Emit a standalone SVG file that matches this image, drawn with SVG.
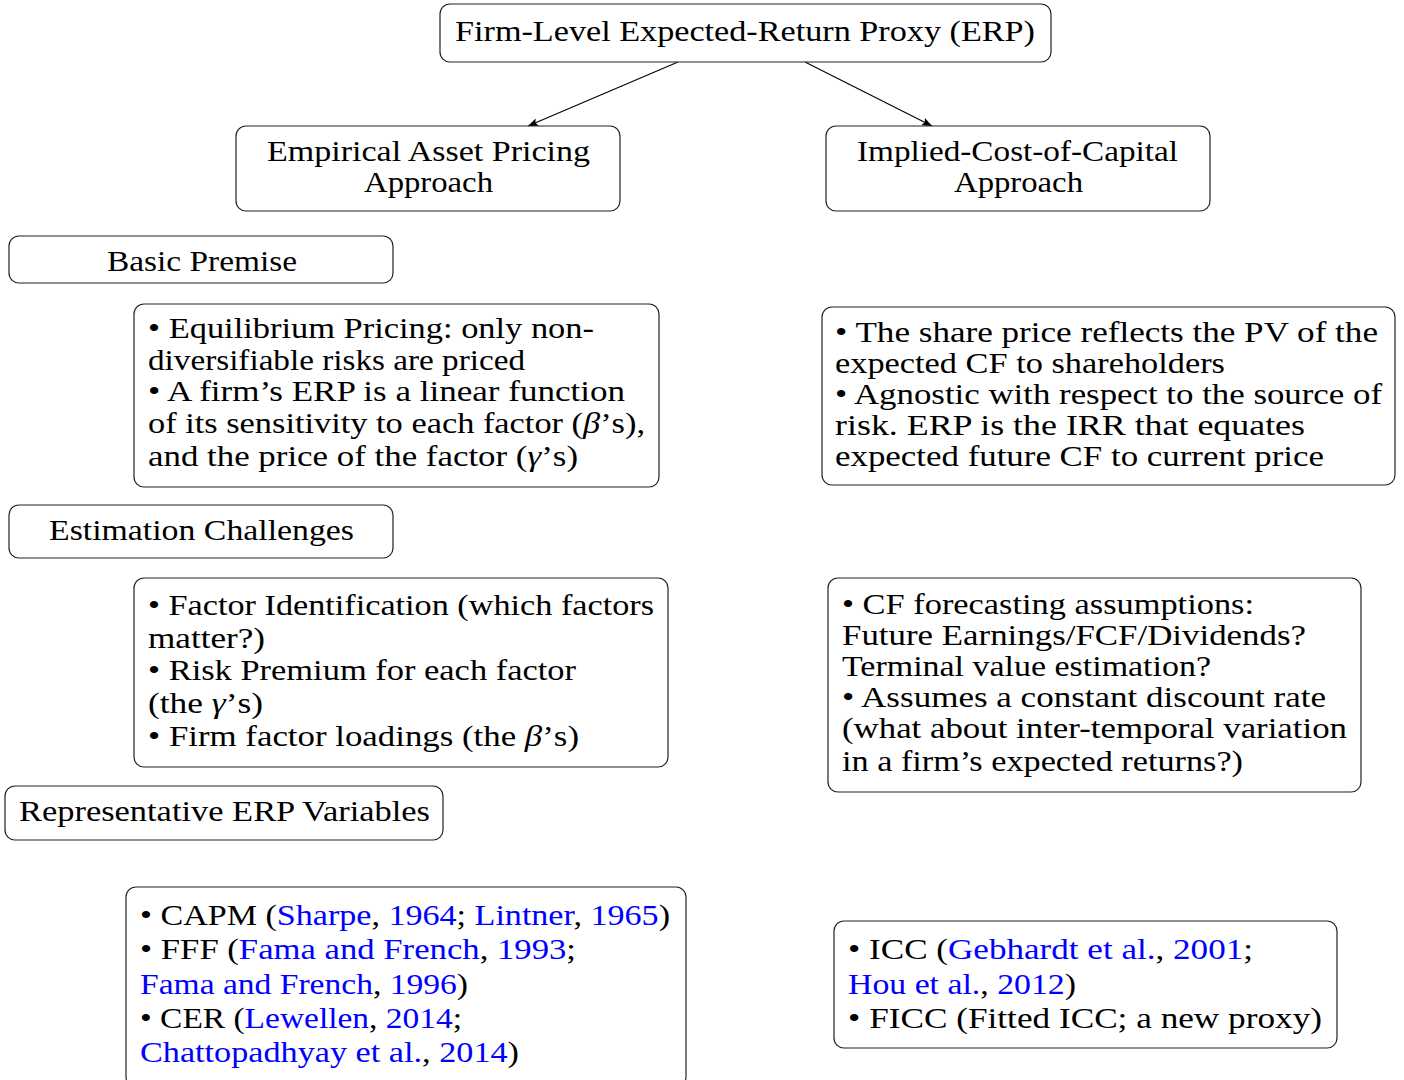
<svg xmlns="http://www.w3.org/2000/svg" width="1404" height="1080" viewBox="0 0 1404 1080">
<defs>
<marker id="arr" viewBox="0 0 10 8" refX="10" refY="4" markerWidth="10" markerHeight="8" markerUnits="userSpaceOnUse" orient="auto">
<path d="M0,0 L10,4 L0,8 L2,4 Z" fill="#000"/>
</marker>
<style>
.box{fill:#fff;stroke:#222;stroke-width:1.2}
text{font-family:"Liberation Serif","Times New Roman",serif;font-size:30px;fill:#000}
.c{text-anchor:middle}
.l{fill:#0000ff}
.m{font-style:italic}
.edge{stroke:#000;stroke-width:1.1;fill:none}
</style>
</defs>
<rect width="1404" height="1080" fill="#fff"/>
<g id="connectors">
<path class="edge" d="M678,62 L528,126" marker-end="url(#arr)"/>
<path class="edge" d="M805,62 L932,126" marker-end="url(#arr)"/>
</g>
<g id="erp">
<rect class="box" x="440" y="4" width="611" height="58" rx="10"/>
<text x="455" y="41" textLength="580" lengthAdjust="spacingAndGlyphs">Firm-Level Expected-Return Proxy (ERP)</text>
</g>
<g id="empirical">
<rect class="box" x="236" y="126" width="384" height="85" rx="10"/>
<text x="267" y="161" textLength="323" lengthAdjust="spacingAndGlyphs">Empirical Asset Pricing</text>
<text x="364" y="192" textLength="129" lengthAdjust="spacingAndGlyphs">Approach</text>
</g>
<g id="icc">
<rect class="box" x="826" y="126" width="384" height="85" rx="10"/>
<text x="857" y="161" textLength="321" lengthAdjust="spacingAndGlyphs">Implied-Cost-of-Capital</text>
<text x="954" y="192" textLength="129" lengthAdjust="spacingAndGlyphs">Approach</text>
</g>
<g id="basic-premise">
<rect class="box" x="9" y="236" width="384" height="47" rx="10"/>
<text x="107" y="271" textLength="190" lengthAdjust="spacingAndGlyphs">Basic Premise</text>
</g>
<g id="premise-left">
<rect class="box" x="134" y="304" width="525" height="183" rx="10"/>
<text x="148" y="338" textLength="446" lengthAdjust="spacingAndGlyphs">• Equilibrium Pricing: only non-</text>
<text x="148" y="370" textLength="377" lengthAdjust="spacingAndGlyphs">diversifiable risks are priced</text>
<text x="148" y="401" textLength="477" lengthAdjust="spacingAndGlyphs">• A firm’s ERP is a linear function</text>
<text x="148" y="433" textLength="497" lengthAdjust="spacingAndGlyphs">of its sensitivity to each factor (<tspan class="m">β</tspan>’s),</text>
<text x="148" y="466" textLength="430" lengthAdjust="spacingAndGlyphs">and the price of the factor (<tspan class="m">γ</tspan>’s)</text>
</g>
<g id="premise-right">
<rect class="box" x="822" y="307" width="573" height="178" rx="10"/>
<text x="835" y="342" textLength="543" lengthAdjust="spacingAndGlyphs">• The share price reflects the PV of the</text>
<text x="835" y="373" textLength="390" lengthAdjust="spacingAndGlyphs">expected CF to shareholders</text>
<text x="835" y="404" textLength="547" lengthAdjust="spacingAndGlyphs">• Agnostic with respect to the source of</text>
<text x="835" y="435" textLength="470" lengthAdjust="spacingAndGlyphs">risk. ERP is the IRR that equates</text>
<text x="835" y="466" textLength="489" lengthAdjust="spacingAndGlyphs">expected future CF to current price</text>
</g>
<g id="estimation-challenges">
<rect class="box" x="9" y="505" width="384" height="53" rx="10"/>
<text x="49" y="540" textLength="305" lengthAdjust="spacingAndGlyphs">Estimation Challenges</text>
</g>
<g id="challenges-left">
<rect class="box" x="134" y="578" width="534" height="189" rx="10"/>
<text x="148" y="615" textLength="506" lengthAdjust="spacingAndGlyphs">• Factor Identification (which factors</text>
<text x="148" y="648" textLength="117" lengthAdjust="spacingAndGlyphs">matter?)</text>
<text x="148" y="680" textLength="428" lengthAdjust="spacingAndGlyphs">• Risk Premium for each factor</text>
<text x="148" y="713" textLength="115" lengthAdjust="spacingAndGlyphs">(the <tspan class="m">γ</tspan>’s)</text>
<text x="148" y="746" textLength="431" lengthAdjust="spacingAndGlyphs">• Firm factor loadings (the <tspan class="m">β</tspan>’s)</text>
</g>
<g id="challenges-right">
<rect class="box" x="828" y="578" width="533" height="214" rx="10"/>
<text x="842" y="614" textLength="412" lengthAdjust="spacingAndGlyphs">• CF forecasting assumptions:</text>
<text x="842" y="645" textLength="464" lengthAdjust="spacingAndGlyphs">Future Earnings/FCF/Dividends?</text>
<text x="842" y="676" textLength="369" lengthAdjust="spacingAndGlyphs">Terminal value estimation?</text>
<text x="842" y="707" textLength="484" lengthAdjust="spacingAndGlyphs">• Assumes a constant discount rate</text>
<text x="842" y="738" textLength="505" lengthAdjust="spacingAndGlyphs">(what about inter-temporal variation</text>
<text x="842" y="771" textLength="401" lengthAdjust="spacingAndGlyphs">in a firm’s expected returns?)</text>
</g>
<g id="representative-erp">
<rect class="box" x="5" y="786" width="438" height="54" rx="10"/>
<text x="19" y="821" textLength="411" lengthAdjust="spacingAndGlyphs">Representative ERP Variables</text>
</g>
<g id="variables-left">
<rect class="box" x="126" y="887" width="560" height="200" rx="10"/>
<text x="140" y="925" textLength="530" lengthAdjust="spacingAndGlyphs">• CAPM (<tspan class="l">Sharpe</tspan>, <tspan class="l">1964</tspan>; <tspan class="l">Lintner</tspan>, <tspan class="l">1965</tspan>)</text>
<text x="140" y="959" textLength="436" lengthAdjust="spacingAndGlyphs">• FFF (<tspan class="l">Fama and French</tspan>, <tspan class="l">1993</tspan>;</text>
<text x="140" y="994" textLength="328" lengthAdjust="spacingAndGlyphs"><tspan class="l">Fama and French</tspan>, <tspan class="l">1996</tspan>)</text>
<text x="140" y="1028" textLength="322" lengthAdjust="spacingAndGlyphs">• CER (<tspan class="l">Lewellen</tspan>, <tspan class="l">2014</tspan>;</text>
<text x="140" y="1062" textLength="379" lengthAdjust="spacingAndGlyphs"><tspan class="l">Chattopadhyay et al.</tspan>, <tspan class="l">2014</tspan>)</text>
</g>
<g id="variables-right">
<rect class="box" x="834" y="921" width="503" height="127" rx="10"/>
<text x="848" y="959" textLength="405" lengthAdjust="spacingAndGlyphs">• ICC (<tspan class="l">Gebhardt et al.</tspan>, <tspan class="l">2001</tspan>;</text>
<text x="848" y="994" textLength="228" lengthAdjust="spacingAndGlyphs"><tspan class="l">Hou et al.</tspan>, <tspan class="l">2012</tspan>)</text>
<text x="848" y="1028" textLength="474" lengthAdjust="spacingAndGlyphs">• FICC (Fitted ICC; a new proxy)</text>
</g>
</svg>
